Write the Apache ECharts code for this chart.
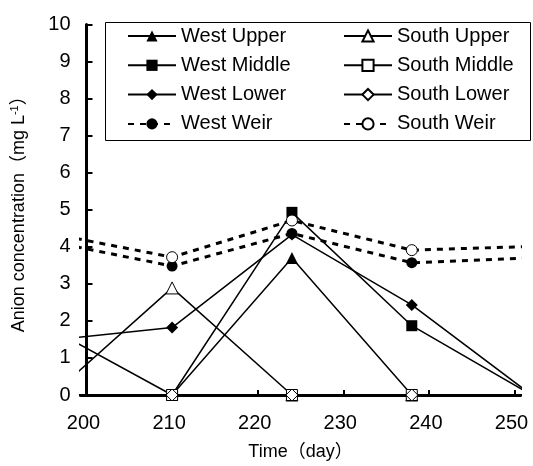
<!DOCTYPE html>
<html>
<head>
<meta charset="utf-8">
<script src="https://cdn.jsdelivr.net/npm/echarts@6/dist/echarts.min.js"></script>
<style>
html,body{margin:0;padding:0;background:#fff;}
#c{width:533px;height:466px;}
</style>
</head>
<body>
<div id="c"></div>
<script>
// Sampling days (first and last lie just outside the visible axis range)
const days = [196, 210, 224, 238, 252];
const xTickValues = [200, 210, 220, 230, 240, 250];

const westUpper  = [0, 0, 3.7, 0, 0];
const westMiddle = [1.77, 0, 4.93, 1.87, 0];
const westLower  = [1.48, 1.82, 4.33, 2.43, 0];
const westWeir   = [4.13, 3.48, 4.36, 3.57, 3.70];
const southUpper = [0, 2.89, 0, 0, 0];
const southMiddle= [0, 0, 0, 0, 0];
const southLower = [0, 0, 0, 0, 0];
const southWeir  = [4.35, 3.72, 4.71, 3.91, 4.01];

const westNames  = ['West Upper', 'West Middle', 'West Lower', 'West Weir'];
const southNames = ['South Upper', 'South Middle', 'South Lower', 'South Weir'];

const FONT = "'Liberation Sans', Arial, 'Noto Sans CJK JP', sans-serif";

function pairs(vals){ return days.map((d,i)=>[d, vals[i]]); }

function mk(name, vals, symbol, filled, dotted){
  return {
    name: name,
    type: 'line',
    data: pairs(vals),
    symbol: symbol,
    symbolSize: symbol === 'triangle' ? 12 : (symbol === 'diamond' ? 12 : 11),
    showAllSymbol: true,
    clip: true,
    lineStyle: dotted ? {color:'#000', width:3, type:[6,6]} : {color:'#000', width:1.5},
    itemStyle: {color: filled ? '#000' : '#fff', borderColor:'#000', borderWidth: filled ? 0 : 1},
    emphasis: {disabled: true},
    animation: false
  };
}

const series = [
  mk(westNames[0], westUpper, 'triangle', true, false),
  mk(westNames[1], westMiddle, 'rect', true, false),
  mk(westNames[2], westLower, 'diamond', true, false),
  mk(westNames[3], westWeir, 'circle', true, true),
  mk(southNames[0], southUpper, 'triangle', false, false),
  mk(southNames[1], southMiddle, 'rect', false, false),
  mk(southNames[2], southLower, 'diamond', false, false),
  mk(southNames[3], southWeir, 'circle', false, true)
];

const legendCommon = {
  orient: 'vertical',
  top: 26,
  padding: 0,
  itemWidth: 48,
  itemHeight: 14,
  itemGap: 9.3,
  selectedMode: false,
  textStyle: {fontFamily: FONT, fontSize: 20, color:'#000', lineHeight: 20}
};

const chart = echarts.init(document.getElementById('c'), null, {renderer:'canvas'});
chart.setOption({
  animation: false,
  backgroundColor: '#fff',
  textStyle: {fontFamily: FONT},
  grid: {left: 80.5, width: 440, top: 24.5, height: 375, containLabel: false},
  graphic: [{
    type: 'rect', z: 0,
    shape: {x: 105.5, y: 22.5, width: 425, height: 118},
    style: {fill: '#fff', stroke: '#000', lineWidth: 1}
  }],
  legend: [
    Object.assign({}, legendCommon, {data: westNames, left: 127}),
    Object.assign({}, legendCommon, {data: southNames, left: 343})
  ],
  xAxis: {
    type: 'value',
    min: 199.3, max: 250.7,
    name: 'Time（day）',
    nameLocation: 'middle',
    nameGap: 48,
    nameTextStyle: {fontFamily: FONT, fontSize: 18, color:'#000'},
    axisLine: {onZero: false, lineStyle: {color:'#000', width: 3}},
    axisTick: {inside: true, length: 5, lineStyle: {color:'#000', width: 2}, customValues: xTickValues},
    axisLabel: {fontFamily: FONT, fontSize: 20, color:'#000', margin: 18, padding:[0,6,0,0], customValues: xTickValues},
    splitLine: {show: false}
  },
  yAxis: {
    type: 'value',
    min: 0, max: 10, interval: 1,
    offset: -6,
    name: '{a|Anion concentration（mg L}{s|-1}{a|）}',
    nameLocation: 'middle',
    nameGap: 58,
    nameTextStyle: {
      rich: {
        a: {fontFamily: FONT, fontSize: 18, color:'#000'},
        s: {fontFamily: FONT, fontSize: 11, color:'#000', verticalAlign:'top', padding:[0,0,8,0]}
      }
    },
    axisLine: {show: true, onZero: false, lineStyle: {color:'#000', width: 3}},
    axisTick: {show: true, inside: true, length: 6, lineStyle: {color:'#000', width: 2}},
    axisLabel: {fontFamily: FONT, fontSize: 20, color:'#000', margin: 16},
    splitLine: {show: false}
  },
  series: series
});
</script>
</body>
</html>
